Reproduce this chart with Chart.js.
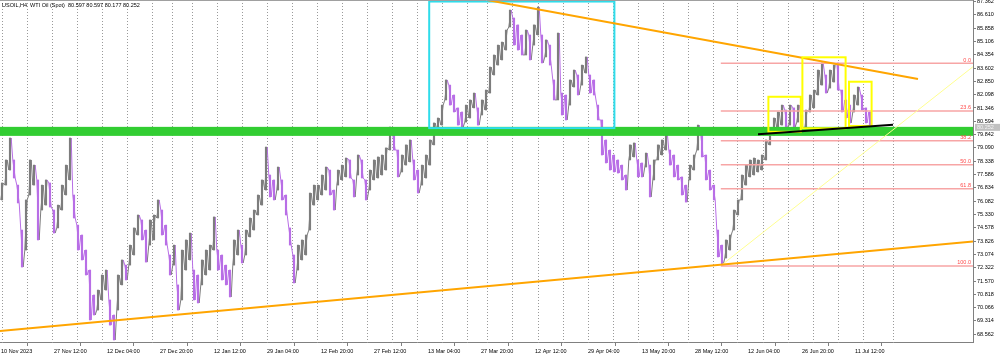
<!DOCTYPE html>
<html><head><meta charset="utf-8">
<script src="https://cdn.jsdelivr.net/npm/chart.js@4.4.1/dist/chart.umd.min.js"></script>
<style>html,body{margin:0;padding:0;background:#fff;}#wrap{width:1000px;height:358px;position:relative;}</style>
</head><body><div id="wrap"><canvas id="c"></canvas></div>
<script>
const title = 'USOIL,H4  WTI Oil (Spot)  80.597 80.597 80.177 80.252';

const highs = [
77.11,78.41,79.65,78.41,76.99,74.45,76.15,78.41,78.12,77.28,76.99,77.28,77.11,75.58,75.86,76.99,78.12,79.65,76.43,74.73,74.17,73.32,72.19,70.78,71.06,71.91,72.19,70.50,69.65,71.91,72.76,72.47,73.60,74.57,75.30,75.02,74.45,75.02,75.30,76.15,75.58,74.73,73.04,73.60,71.35,
73.32,73.89,74.28,72.19,71.91,72.76,73.32,73.60,75.19,73.32,73.04,72.47,72.19,73.89,74.45,73.60,74.45,75.13,75.58,76.43,77.28,79.14,77.56,77.28,78.01,77.28,76.43,74.57,73.04,73.60,73.89,74.17,76.54,76.99,76.99,77.56,78.01,77.84,76.71,77.84,78.12,78.52,78.41,77.28,
78.69,78.41,77.28,77.84,78.41,78.58,78.69,79.09,80.27,79.82,78.97,78.69,79.26,79.54,78.41,77.84,78.12,78.69,79.54,80.50,80.78,81.51,82.93,82.64,82.08,81.35,81.12,81.51,81.80,82.19,81.35,81.80,82.36,83.66,84.34,84.90,85.07,85.75,86.88,86.43,86.04,85.47,85.75,85.47,
86.04,87.05,85.47,85.19,84.90,82.93,85.58,82.19,82.08,82.93,83.49,83.21,83.77,84.23,83.21,82.93,81.51,80.67,79.54,78.97,78.69,78.41,78.12,77.56,79.26,79.37,78.41,78.24,78.80,78.12,78.41,79.26,79.54,79.99,78.97,78.69,78.12,77.45,76.99,78.12,78.69,80.38,79.82,
78.69,77.84,76.99,74.45,73.60,73.89,74.17,75.58,76.15,77.56,78.12,78.41,78.52,78.41,78.69,79.54,80.10,80.78,81.12,81.51,81.23,81.51,81.35,81.51,80.95,81.23,82.08,82.36,83.49,83.89,83.21,83.49,83.77,83.89,82.36,81.80,81.51,82.08,82.53,82.08,81.35,81.12
];
const lows = [
76.15,76.99,77.84,77.39,75.98,72.36,73.32,76.43,76.99,73.89,75.58,75.86,75.75,74.28,74.57,75.58,76.43,77.28,75.13,73.32,72.76,71.91,69.37,69.65,69.93,70.50,71.06,69.08,68.24,69.93,71.35,71.63,72.47,73.04,74.17,73.89,72.64,73.60,73.89,75.13,74.17,73.60,71.91,72.47,69.93,
70.50,72.19,72.76,70.50,70.33,71.35,71.91,72.19,73.32,72.19,71.63,71.35,70.67,72.47,73.04,72.59,73.04,74.06,74.45,75.30,75.86,76.71,76.32,76.15,76.71,76.15,75.30,73.60,71.46,72.19,72.76,73.04,74.45,75.86,76.15,76.43,76.71,76.43,75.58,76.99,77.28,77.45,77.39,76.32,
77.56,77.39,76.15,76.71,77.28,77.39,77.56,77.84,78.97,78.97,77.45,77.73,78.12,78.30,77.28,76.54,76.99,77.39,78.12,79.26,80.10,80.38,81.80,81.51,81.12,80.38,80.27,80.55,80.78,81.35,80.38,80.95,81.23,82.19,83.21,83.77,84.06,84.62,85.92,84.90,84.62,84.34,84.34,84.06,
84.90,85.47,83.89,84.23,83.77,81.80,81.80,80.95,80.67,81.51,82.53,82.08,82.64,83.32,82.19,82.08,80.67,78.69,78.24,77.84,77.73,77.67,77.28,76.71,78.41,78.58,77.45,77.45,78.01,76.32,77.28,78.41,78.69,78.97,78.12,77.45,77.28,76.43,76.03,77.28,77.84,78.97,78.58,
77.28,76.71,76.15,72.93,72.47,72.87,73.32,74.45,75.30,76.15,76.99,77.45,77.56,77.73,77.84,78.41,79.26,79.82,80.21,80.38,80.21,80.38,80.27,80.55,80.10,80.21,81.12,81.35,82.08,82.64,82.19,82.47,82.81,82.36,81.12,80.78,80.50,81.12,81.51,81.23,80.50,80.38
];

const priceTicks = ['87.362','86.610','85.858','85.106','84.354','83.602','82.850','82.098','81.346','80.594','79.842','79.090','78.338','77.586','76.834','76.082','75.330','74.578','73.826','73.074','72.322','71.570','70.818','70.066','69.314','68.562'];
const timeLabels = ['10 Nov 2023','27 Nov 12:00','12 Dec 04:00','27 Dec 20:00','12 Jan 12:00','29 Jan 04:00','12 Feb 20:00','27 Feb 12:00','13 Mar 04:00','27 Mar 20:00','12 Apr 12:00','29 Apr 04:00','13 May 20:00','28 May 12:00','12 Jun 04:00','26 Jun 20:00','11 Jul 12:00'];
const timeLabelPos = [-0.25,13,26.25,39.5,53,66.25,79.75,93,106.5,119.75,133.25,146.5,160,173.25,186.5,200,213.25];
const weekGrid = [0,6.18,12.43,18.68,24.93,31.18,37.58,42.58,47.43,53.83,60.08,66.33,72.58,78.83,85.08,91.33,97.58,103.83,110.08,116.33,121.33,127.58,133.93,140.18,146.58,152.83,159.08,165.33,171.58,177.68,183.83,190.33,196.58,202.83,209.08,215.33,222.83];

const supportZone = [79.77, 80.28];
const fibLevels = [83.87, 81.17, 79.50, 78.14, 76.79, 72.42];
const fibNames = ['0.0','23.6','38.2','50.0','61.8','100.0'];
const fibStartX = 179.7;
const fibTrend = [[179.9, 72.47], [242.75, 83.68]];
const upperTrend = [[121.25, 87.447], [229.0, 82.98]];
const lowerTrend = [[-0.5, 68.75], [242.75, 73.80]];
const neckline = [[189.0, 79.86], [222.75, 80.40]];
const cyanBox = [106.8, 153.1, 80.21, 87.36];
const yellowBoxes = [[191.6, 199.7, 80.00, 81.98], [200.1, 210.9, 80.20, 84.21], [211.75, 217.4, 80.33, 82.83]];
const lastPrice = '80.252';

const UP = '#7d7d7d', DOWN = '#b86ee6';
const candles = highs.map((h, i) => ({x: i, y: [lows[i], h]}));
const colors = highs.map((h, i) => {
  if (i === 0) return UP;
  const m = (h + lows[i]) / 2, pm = (highs[i - 1] + lows[i - 1]) / 2;
  return m >= pm ? UP : DOWN;
});
// zigzag trace through each bar's range (low->high for up bars, high->low for down bars)
const zig = [];
highs.forEach((h, i) => {
  const up = colors[i] === UP;
  zig.push({x: i - 0.3, y: up ? lows[i] : h});
  zig.push({x: i + 0.3, y: up ? h : lows[i]});
});
const FONT = 'Liberation Sans';

const overlay = {
  id: 'overlay',
  beforeDatasetsDraw(chart) {
    const {ctx, chartArea: a, scales: {x}} = chart;
    ctx.save();
    ctx.strokeStyle = '#9a9a9a'; ctx.lineWidth = 1; ctx.setLineDash([1, 2]);
    weekGrid.forEach(v => {
      const px = Math.round(x.getPixelForValue(v)) + 0.5;
      ctx.beginPath(); ctx.moveTo(px, a.top); ctx.lineTo(px, a.bottom + 3); ctx.stroke();
    });
    ctx.restore();
  },
  afterDatasetsDraw(chart) {
    const {ctx, chartArea: a, scales: {x, y}} = chart;
    const X = v => x.getPixelForValue(v), Y = v => y.getPixelForValue(v);
    const seg = (p, color, w) => {
      ctx.strokeStyle = color; ctx.lineWidth = w;
      ctx.beginPath(); ctx.moveTo(X(p[0][0]), Y(p[0][1])); ctx.lineTo(X(p[1][0]), Y(p[1][1])); ctx.stroke();
    };
    const box = (b, color, w) => {
      ctx.strokeStyle = color; ctx.lineWidth = w;
      ctx.strokeRect(X(b[0]), Y(b[3]), X(b[1]) - X(b[0]), Y(b[2]) - Y(b[3]));
    };
    ctx.save();
    ctx.beginPath(); ctx.rect(a.left, a.top, a.right - a.left, a.bottom - a.top); ctx.clip();
    ctx.fillStyle = '#32cd32';
    ctx.fillRect(a.left, Y(supportZone[1]), a.right - a.left, Y(supportZone[0]) - Y(supportZone[1]));
    ctx.strokeStyle = '#f7a5a5'; ctx.lineWidth = 1.5;
    fibLevels.forEach(v => {
      const py = Y(v);
      ctx.beginPath(); ctx.moveTo(X(fibStartX), py); ctx.lineTo(a.right, py); ctx.stroke();
    });
    seg(fibTrend, '#ffff90', 1);
    box(cyanBox, '#2fdcea', 2);
    seg(upperTrend, '#ffa500', 2);
    seg(lowerTrend, '#ffa500', 2);
    yellowBoxes.forEach(b => box(b, '#ffff00', 2));
    seg(neckline, '#000000', 2);
    ctx.fillStyle = '#ff4a4a';
    ctx.font = '5.5px "' + FONT + '"';
    ctx.textAlign = 'right'; ctx.textBaseline = 'bottom';
    fibLevels.forEach((v, i) => ctx.fillText(fibNames[i], a.right - 2, Y(v) - 0.5));
    ctx.restore();

    ctx.save();
    ctx.strokeStyle = '#a0a0a0'; ctx.lineWidth = 1;
    ctx.beginPath(); ctx.moveTo(a.left, a.top + 0.5); ctx.lineTo(a.right, a.top + 0.5); ctx.stroke();
    ctx.fillStyle = '#000';
    ctx.font = '5.5px "' + FONT + '"';
    ctx.textAlign = 'left'; ctx.textBaseline = 'middle';
    ctx.fillText(title, a.left + 2, 5);
    const py = Y(parseFloat(lastPrice));
    ctx.fillStyle = '#c0c0c0';
    ctx.fillRect(a.right + 2, py - 3.5, 1000 - a.right - 2, 7);
    ctx.fillStyle = '#f2f2f2';
    ctx.fillText(lastPrice, a.right + 4, py);
    ctx.restore();
  }
};

new Chart(document.getElementById('c'), {
  type: 'bar',
  data: {datasets: [
    {type: 'line', data: zig, borderWidth: 1, pointRadius: 0, tension: 0, order: 2,
     borderColor: UP, segment: {borderColor: c => colors[Math.floor(c.p1DataIndex / 2)]}},
    {type: 'bar', data: candles, backgroundColor: colors, borderWidth: 0, barThickness: 1.5, grouped: false, order: 1}
  ]},
  options: {
    responsive: true, maintainAspectRatio: false, animation: false, devicePixelRatio: 1,
    layout: {padding: 0},
    plugins: {legend: {display: false}, tooltip: {enabled: false}},
    scales: {
      x: {
        type: 'linear', position: 'bottom', min: -0.5, max: 242.75, offset: false,
        afterBuildTicks: s => { s.ticks = timeLabelPos.map(v => ({value: v})); },
        afterFit: s => { s.height = 16; s.paddingLeft = 0; s.paddingRight = 0; },
        ticks: {autoSkip: false, maxRotation: 0, minRotation: 0, align: 'start', padding: 2, color: '#000',
          font: {family: FONT, size: 5.5}, callback: (v, i) => timeLabels[i]},
        grid: {drawOnChartArea: false, drawTicks: true, tickLength: 4, color: '#808080'},
        border: {display: true, color: '#808080', width: 1}
      },
      y: {
        type: 'linear', position: 'right', min: 68.125, max: 87.447,
        afterBuildTicks: s => { s.ticks = priceTicks.map(t => ({value: parseFloat(t)})); },
        afterFit: s => { s.width = 27; s.paddingTop = 0; s.paddingBottom = 0; },
        ticks: {autoSkip: false, padding: 1, color: '#000', font: {family: FONT, size: 5.5},
          callback: (v, i) => priceTicks[i]},
        grid: {drawOnChartArea: false, drawTicks: true, tickLength: 3, color: '#808080'},
        border: {display: true, color: '#808080', width: 1}
      }
    }
  },
  plugins: [overlay]
});
</script></body></html>
